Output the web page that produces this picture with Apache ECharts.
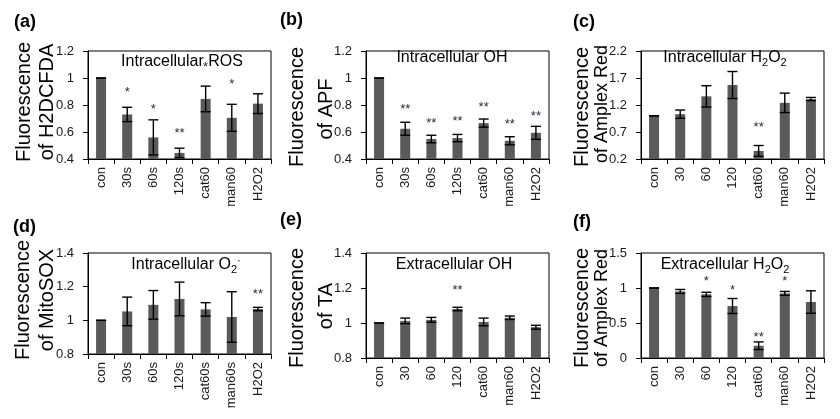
<!DOCTYPE html>
<html><head><meta charset="utf-8">
<script src="https://cdn.jsdelivr.net/npm/echarts@6/dist/echarts.min.js"></script>
<style>html,body{margin:0;padding:0;background:#fff}#c{width:840px;height:419px}</style>
</head><body><div id="c"></div>
<script>
// ---- data ----
const catsA = ['con','30s','60s','120s','cat60','man60','H2O2'];
const valsA = [1.00,0.73,0.56,0.445,0.845,0.705,0.81];
const errA  = [0,0.053,0.13,0.035,0.095,0.10,0.073];
const sigA  = ['','*','*','**','*','*',''];
const sigYA = [null,0.917,0.789,0.612,1.104,0.971,null];
const ticksA = [0.4,0.6,0.8,1,1.2];

const catsB = ['con','30s','60s','120s','cat60','man60','H2O2'];
const valsB = [1.00,0.624,0.548,0.555,0.666,0.535,0.594];
const errB  = [0,0.048,0.028,0.027,0.03,0.03,0.048];
const sigB  = ['','**','**','**','**','**','**'];
const sigYB = [null,0.789,0.686,0.703,0.806,0.676,0.74];
const ticksB = [0.4,0.6,0.8,1,1.2];

const catsC = ['con','30','60','120','cat60','man60','H2O2'];
const valsC = [1.00,1.03,1.36,1.57,0.35,1.24,1.31];
const errC  = [0,0.077,0.197,0.25,0.1,0.18,0.03];
const sigC  = ['','','','','**','',''];
const sigYC = [null,null,null,null,0.834,null,null];
const ticksC = [0.2,0.7,1.2,1.7,2.2];

const catsD = ['con','30s','60s','120s','cat60s','man60s','H2O2'];
const valsD = [1.00,1.053,1.092,1.127,1.065,1.02,1.067];
const errD  = [0,0.085,0.085,0.1,0.04,0.15,0.01];
const sigD  = ['','','','','','','**'];
const sigYD = [null,null,null,null,null,null,1.171];
const ticksD = [0.8,1,1.2,1.4];

const catsE = ['con','30','60','120','cat60','man60','H2O2'];
const valsE = [1.00,1.012,1.018,1.08,1.006,1.03,0.976];
const errE  = [0,0.016,0.014,0.01,0.022,0.01,0.011];
const sigE  = ['','','','**','','',''];
const sigYE = [null,null,null,1.203,null,null,null];
const ticksE = [0.8,1,1.2,1.4];

const catsF = ['con','30','60','120','cat60','man60','H2O2'];
const valsF = [1.00,0.951,0.909,0.743,0.175,0.923,0.80];
const errF  = [0,0.028,0.03,0.107,0.055,0.028,0.16];
const sigF  = ['','','*','*','**','*',''];
const sigYF = [null,null,1.136,1.008,0.331,1.136,null];
const ticksF = [0,0.5,1,1.5];

// ---- layout / styling ----
const FONT = '"Liberation Sans", Arial, sans-serif';
const panels = [
  {cats:catsA, vals:valsA, err:errA, sig:sigA, sigY:sigYA, ticks:ticksA, grid:{left:88, top:51, width:183, height:108}},
  {cats:catsB, vals:valsB, err:errB, sig:sigB, sigY:sigYB, ticks:ticksB, grid:{left:366, top:51, width:183, height:108}},
  {cats:catsC, vals:valsC, err:errC, sig:sigC, sigY:sigYC, ticks:ticksC, grid:{left:641, top:51, width:183, height:108}},
  {cats:catsD, vals:valsD, err:errD, sig:sigD, sigY:sigYD, ticks:ticksD, grid:{left:88, top:253, width:183, height:101}},
  {cats:catsE, vals:valsE, err:errE, sig:sigE, sigY:sigYE, ticks:ticksE, grid:{left:366, top:253, width:183, height:105}},
  {cats:catsF, vals:valsF, err:errF, sig:sigF, sigY:sigYF, ticks:ticksF, grid:{left:641, top:253, width:183, height:105}}
];

const grids = [], xAxes = [], yAxes = [], series = [];
panels.forEach((p, i) => {
  grids.push(Object.assign({show:true, borderColor:'#000', borderWidth:1, backgroundColor:'transparent'}, p.grid));
  xAxes.push({
    type:'category', gridIndex:i, data:p.cats, boundaryGap:true,
    axisLine:{lineStyle:{color:'#000', width:1}},
    axisTick:{show:true, length:5, inside:false, lineStyle:{color:'#000'}},
    axisLabel:{rotate:90, margin:8, fontSize:13, fontFamily:FONT, color:'#1a1a1a', interval:0}
  });
  yAxes.push({
    type:'value', gridIndex:i, min:p.ticks[0], max:p.ticks[p.ticks.length-1],
    axisLine:{show:true, lineStyle:{color:'#000', width:1}},
    axisTick:{show:true, length:5, inside:false, customValues:p.ticks, lineStyle:{color:'#000'}},
    axisLabel:{customValues:p.ticks, margin:14, fontSize:13, fontFamily:FONT, color:'#1a1a1a'},
    splitLine:{show:false}
  });
  series.push({
    type:'bar', xAxisIndex:i, yAxisIndex:i, data:p.vals, barWidth:10,
    itemStyle:{color:'#5a5a5a'}, clip:true, silent:true, animation:false
  });
  series.push({
    type:'custom', xAxisIndex:i, yAxisIndex:i, animation:false, silent:true, z:3,
    data:p.vals.map((v,k)=>[k, v, p.err[k]]),
    renderItem:function(params, api){
      const k = api.value(0), v = api.value(1), e = api.value(2);
      const hi = api.coord([k, v+e]), lo = api.coord([k, v-e]);
      const h = 5, st = {stroke:'#000', lineWidth:1.4};
      return {type:'group', children:[
        {type:'line', shape:{x1:hi[0], y1:hi[1], x2:lo[0], y2:lo[1]}, style:st},
        {type:'line', shape:{x1:hi[0]-h, y1:hi[1], x2:hi[0]+h, y2:hi[1]}, style:st},
        {type:'line', shape:{x1:lo[0]-h, y1:lo[1], x2:lo[0]+h, y2:lo[1]}, style:st}
      ]};
    }
  });
  series.push({
    type:'custom', xAxisIndex:i, yAxisIndex:i, animation:false, silent:true, z:4,
    dimensions:['x','y',{name:'s', type:'ordinal'}],
    data:p.sig.map((s,k)=>[k, p.sigY[k], s]).filter(d=>d[2]),
    renderItem:function(params, api){
      const pt = api.coord([api.value(0), api.value(1)]);
      return {type:'text', x:pt[0], y:pt[1]+3, style:{
        text: api.value(2), fill:'#2a2a3a',
        font:'13px ' + FONT, textAlign:'center', textVerticalAlign:'middle'}};
    }
  });
});

// titles, panel letters, axis names
const subRich = {
  t:{fontSize:16, fontFamily:FONT, color:'#000'},
  s:{fontSize:11, fontFamily:FONT, padding:[9,0,0,0], color:'#000'},
  p:{fontSize:11, fontFamily:FONT, padding:[0,0,9,0], color:'#000'}
};
function title(x, y, txt){
  return {type:'text', x:x, y:y, z:100, style:{text:txt, rich:subRich, font:'16px '+FONT, fill:'#000',
    textAlign:'center', textVerticalAlign:'middle'}};
}
function letter(x, y, txt){
  return {type:'text', x:x, y:y, z:100, style:{text:txt, font:'bold 18px '+FONT, fill:'#000', textAlign:'left', textVerticalAlign:'top'}};
}
function yname(x, y, txt, size){
  return {type:'text', x:x, y:y, rotation:Math.PI/2, z:100, style:{text:txt, font:(size||20)+'px '+FONT, fill:'#000', textAlign:'center', textVerticalAlign:'middle'}};
}
const graphic = [
  letter(14,13,'(a)'), letter(280,11,'(b)'), letter(573,13,'(c)'),
  letter(13,218,'(d)'), letter(280,211,'(e)'), letter(573,213,'(f)'),
  title(182,62,'{t|Intracellular ROS}'),
  title(452,58,'{t|Intracellular OH}'),
  title(725,58,'{t|Intracellular H}{s|2}{t|O}{s|2}'),
  title(186,265,'{t|Intracellular O}{s|2}{p|·}'),
  title(454,265,'{t|Extracellular OH}'),
  title(725,265,'{t|Extracellular H}{s|2}{t|O}{s|2}'),
  yname(24,102,'Fluorescence'), yname(47,102,'of H2DCFDA'),
  yname(297,107,'Fluorescence'), yname(326,109,'of APF'),
  yname(582,107,'Fluorescence'), yname(602,104,'of Amplex Red',18),
  yname(23,300,'Fluorescence'), yname(47,300,'of MitoSOX'),
  yname(297,308,'Fluorescence'), yname(326,306,'of TA'),
  yname(582,308,'Fluorescence'), yname(602,308,'of Amplex Red',18)
];

const chart = echarts.init(document.getElementById('c'), null, {renderer:'canvas'});
chart.setOption({
  animation:false, backgroundColor:'#fff',
  grid:grids, xAxis:xAxes, yAxis:yAxes, series:series, graphic:graphic
});
</script></body></html>
